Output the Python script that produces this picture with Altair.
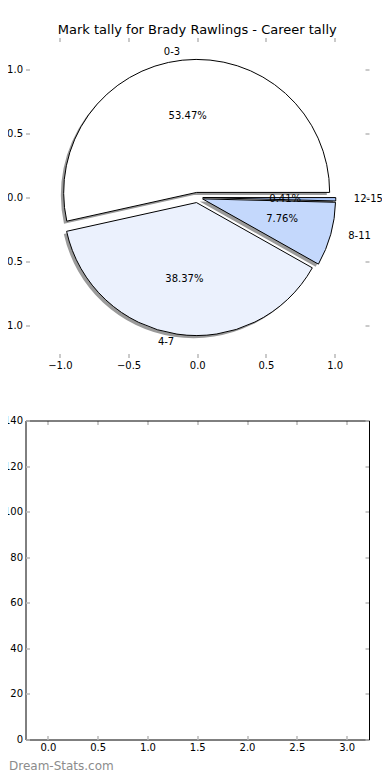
import math
import altair as alt
import pandas as pd

# ---------------- data ----------------
categories = ["0-3", "4-7", "8-11", "12-15"]
counts = [131, 94, 19, 1]
slice_colors = ["#ffffff", "#ebf1fd", "#c4d8fc", "#a7c4f8"]
explode = [0.04, 0.04, 0.04, 0.04]

title_text = "Mark tally for Brady Rawlings - Career tally"
pie_ticks = [-1.0, -0.5, 0.0, 0.5, 1.0]
pie_limits = [-1.25, 1.25]
bar_x_ticks = [0.0, 0.5, 1.0, 1.5, 2.0, 2.5, 3.0]
bar_y_ticks = [0, 20, 40, 60, 80, 100, 120, 140]
bar_x_limits = [-0.225, 3.225]
bar_y_limits = [0, 140]
watermark = "Dream-Stats.com"

FONT = "DejaVu Sans"
TICK_GREY = "#b8b8b8"
W = 343.5
H_TOP = 320
H_BOT = 319
PIE_R = 133

pie_df = pd.DataFrame({
    "label": categories,
    "count": counts,
    "explode": explode,
    "order": list(range(len(categories))),
})
frame_df = pd.DataFrame({"x": bar_x_limits, "y": bar_y_limits})


def main_axis(orient, values, fmt, domain=False):
    return alt.Axis(
        orient=orient, values=values, format=fmt, domain=domain,
        domainColor="black", domainWidth=1, ticks=False, grid=False,
        labelPadding=3, labelFont=FONT, labelFontSize=10, labelColor="black",
        labelOverlap=False, labelFlush=False, title=None,
    )


def tick_axis(orient, values):
    return alt.Axis(
        orient=orient, values=values, offset=-4, tickSize=4, ticks=True,
        tickColor=TICK_GREY, tickWidth=1.5, labels=False, domain=False,
        grid=False, title=None,
    )


def frame_axis(orient, values):
    return alt.Axis(
        orient=orient, values=values, domain=True, domainColor="black",
        domainWidth=1, ticks=False, labels=False, grid=False, title=None,
    )


# ---------------- pie panel ----------------
xs = alt.Scale(domain=pie_limits, nice=False, zero=False)
ys = alt.Scale(domain=pie_limits, nice=False, zero=False)
theta_scale = alt.Scale(domain=[0, 1], range=[2.5 * math.pi, 0.5 * math.pi])

base = (
    alt.Chart(pie_df)
    .transform_joinaggregate(total="sum(count)")
    .transform_window(cum="sum(count)", sort=[alt.SortField("order")], frame=[None, 0])
    .transform_calculate(
        t0="(datum.cum - datum.count) / datum.total",
        t1="datum.cum / datum.total",
    )
    .transform_calculate(mid="PI * (datum.t0 + datum.t1)")
    .transform_calculate(
        ex="datum.explode * cos(datum.mid)",
        ey="datum.explode * sin(datum.mid)",
    )
    .transform_calculate(
        lx="datum.ex + 1.1 * cos(datum.mid)",
        ly="datum.ey + 1.1 * sin(datum.mid)",
        px="datum.ex + 0.6 * cos(datum.mid)",
        py="datum.ey + 0.6 * sin(datum.mid)",
        pct="format(datum.count / datum.total, '.2%')",
    )
)

theta_enc = dict(
    theta=alt.Theta("t0:Q", scale=theta_scale, stack=False),
    theta2="t1:Q",
)

shadow = base.mark_arc(radius=PIE_R, fill="#9a9a9a", xOffset=-2.8, yOffset=2.6).encode(
    x=alt.X("ex:Q", scale=xs, axis=main_axis("bottom", pie_ticks, ".1f")),
    y=alt.Y("ey:Q", scale=ys, axis=main_axis("left", pie_ticks, ".1f")),
    **theta_enc,
)

wedges = base.mark_arc(radius=PIE_R, stroke="black", strokeWidth=1).encode(
    x=alt.X("ex:Q", scale=xs, axis=None),
    y=alt.Y("ey:Q", scale=ys, axis=None),
    fill=alt.Fill("label:N", scale=alt.Scale(domain=categories, range=slice_colors), legend=None),
    **theta_enc,
)

pct_text = base.mark_text(font=FONT, fontSize=10, color="black", align="center", baseline="middle").encode(
    x=alt.X("px:Q", scale=xs, axis=None),
    y=alt.Y("py:Q", scale=ys, axis=None),
    text="pct:N",
)

lab_right = base.transform_filter("datum.lx > 0").mark_text(
    font=FONT, fontSize=10, color="black", align="left", baseline="middle"
).encode(
    x=alt.X("lx:Q", scale=xs, axis=None),
    y=alt.Y("ly:Q", scale=ys, axis=None),
    text="label:N",
)

lab_left = base.transform_filter("datum.lx <= 0").mark_text(
    font=FONT, fontSize=10, color="black", align="right", baseline="middle"
).encode(
    x=alt.X("lx:Q", scale=xs, axis=None),
    y=alt.Y("ly:Q", scale=ys, axis=None),
    text="label:N",
)

ticks_bl = base.mark_point(opacity=0).encode(
    x=alt.X("ex:Q", scale=xs, axis=tick_axis("bottom", pie_ticks)),
    y=alt.Y("ey:Q", scale=ys, axis=tick_axis("left", pie_ticks)),
)
ticks_tr = base.mark_point(opacity=0).encode(
    x=alt.X("ex:Q", scale=xs, axis=tick_axis("top", pie_ticks)),
    y=alt.Y("ey:Q", scale=ys, axis=tick_axis("right", pie_ticks)),
)

top = (
    alt.layer(shadow, wedges, pct_text, lab_right, lab_left, ticks_bl, ticks_tr)
    .resolve_axis(x="independent", y="independent")
    .properties(
        width=W, height=H_TOP,
        title=alt.TitleParams(
            title_text, font=FONT, fontSize=13, fontWeight="normal",
            color="black", anchor="middle", frame="group", dy=4,
        ),
    )
)

# ---------------- empty bar panel ----------------
bxs = alt.Scale(domain=bar_x_limits, nice=False, zero=False)
bys = alt.Scale(domain=bar_y_limits, nice=False, zero=False)
fb = alt.Chart(frame_df)

b_main = fb.mark_point(opacity=0).encode(
    x=alt.X("x:Q", scale=bxs, axis=main_axis("bottom", bar_x_ticks, ".1f", domain=True)),
    y=alt.Y("y:Q", scale=bys, axis=main_axis("left", bar_y_ticks, "d", domain=True)),
)
b_ticks_bl = fb.mark_point(opacity=0).encode(
    x=alt.X("x:Q", scale=bxs, axis=tick_axis("bottom", bar_x_ticks)),
    y=alt.Y("y:Q", scale=bys, axis=tick_axis("left", bar_y_ticks)),
)
b_ticks_tr = fb.mark_point(opacity=0).encode(
    x=alt.X("x:Q", scale=bxs, axis=tick_axis("top", bar_x_ticks)),
    y=alt.Y("y:Q", scale=bys, axis=tick_axis("right", bar_y_ticks)),
)
b_frame_tr = fb.mark_point(opacity=0).encode(
    x=alt.X("x:Q", scale=bxs, axis=frame_axis("top", bar_x_ticks)),
    y=alt.Y("y:Q", scale=bys, axis=frame_axis("right", bar_y_ticks)),
)

bottom = (
    alt.layer(b_main, b_ticks_bl, b_ticks_tr, b_frame_tr)
    .resolve_axis(x="independent", y="independent")
    .properties(
        width=W, height=H_BOT,
        title=alt.TitleParams(
            watermark, orient="bottom", anchor="start", frame="group", dx=-16.5, dy=4,
            font=FONT, fontSize=12, fontWeight="normal", color="#8c8c8c",
        ),
    )
)

chart = (
    alt.vconcat(top, bottom, spacing=63, bounds="flush")
    .properties(padding={"left": -10.5, "top": 15.5, "right": -1, "bottom": -2})
    .configure_view(stroke=None)
)

chart.save("out.html", embed_options={"renderer": "svg", "actions": False})
